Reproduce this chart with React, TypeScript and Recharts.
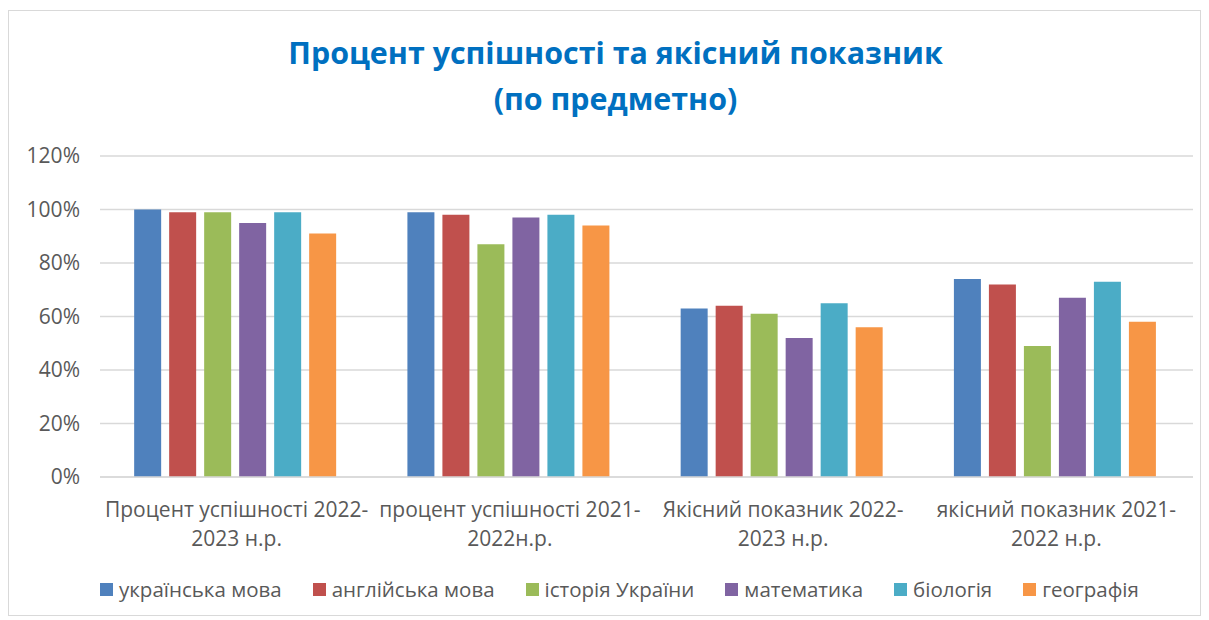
import React from 'react'
import { BarChart, Bar, XAxis, YAxis, CartesianGrid, Legend } from 'recharts'

const categories = [
  'Процент успішності 2022-\n2023 н.р.',
  'процент успішності 2021-\n2022н.р.',
  'Якісний показник 2022-\n2023 н.р.',
  'якісний показник 2021-\n2022 н.р.',
]

const subjects = ['українська мова', 'англійська мова', 'історія України', 'математика', 'біологія', 'географія']
const colors = ['#4F81BD', '#C0504D', '#9BBB59', '#8064A2', '#4BACC6', '#F79646']

const ukrainian = [100, 99, 63, 74]
const english = [99, 98, 64, 72]
const history = [99, 87, 61, 49]
const math = [95, 97, 52, 67]
const biology = [99, 98, 65, 73]
const geography = [91, 94, 56, 58]

const yTicks = [0, 20, 40, 60, 80, 100, 120]

const series = [ukrainian, english, history, math, biology, geography]

const data = categories.map((name, i) => {
  const row: Record<string, string | number> = { name }
  subjects.forEach((s, j) => {
    row[s] = series[j][i]
  })
  return row
})

const FONT = '"Open Sans", "Noto Sans", sans-serif'
const TEXT = '#595959'

function CategoryTick(props: any) {
  const { x, y, payload } = props
  const lines = String(payload.value).split('\n')
  return (
    <g transform={`translate(${x},${y})`}>
      {lines.map((line, i) => (
        <text
          key={i}
          x={0}
          y={32 + i * 29}
          textAnchor="middle"
          fill={TEXT}
          fontSize={21}
          fontFamily={FONT}
        >
          {line}
        </text>
      ))}
    </g>
  )
}

function LegendContent() {
  return (
    <div
      style={{
        display: 'flex',
        justifyContent: 'flex-start',
        paddingLeft: 91,
        gap: 31,
        fontFamily: FONT,
        fontSize: 20.5,
        color: TEXT,
        whiteSpace: 'nowrap',
      }}
    >
      {subjects.map((s, i) => (
        <div key={s} style={{ display: 'flex', alignItems: 'center' }}>
          <span style={{ width: 13, height: 13, background: colors[i], marginRight: 6, display: 'inline-block' }} />
          <span>{s}</span>
        </div>
      ))}
    </div>
  )
}

export default function App() {
  return (
    <div
      style={{
        position: 'relative',
        width: 1191,
        height: 604,
        marginTop: 2,
        border: '1px solid #d9d9d9',
        background: '#fff',
      }}
    >
      <div
        style={{
          position: 'absolute',
          top: 19,
          left: 22,
          width: 1169,
          textAlign: 'center',
          fontFamily: FONT,
          fontWeight: 700,
          fontSize: 30.4,
          lineHeight: '46px',
          color: '#0070C0',
        }}
      >
        Процент успішності та якісний показник
        <br />
        (по предметно)
      </div>
      <BarChart
        width={1191}
        height={604}
        data={data}
        margin={{ top: 145, right: 7, bottom: 28, left: 0 }}
        barCategoryGap="12.5%"
        barGap={8}
      >
        <CartesianGrid vertical={false} stroke="#d9d9d9" strokeWidth={1.5} />
        <XAxis
          dataKey="name"
          axisLine={{ stroke: '#d9d9d9', strokeWidth: 1.5 }}
          tickLine={false}
          tick={<CategoryTick />}
          height={82}
          interval={0}
        />
        <YAxis
          width={91}
          domain={[0, 120]}
          ticks={yTicks}
          tickFormatter={(v: number) => `${v}%`}
          axisLine={false}
          tickLine={false}
          tickMargin={14}
          tick={{ fill: TEXT, fontSize: 21, fontFamily: FONT }}
        />
        <Legend verticalAlign="bottom" content={<LegendContent />} wrapperStyle={{ bottom: 12 }} />
        {subjects.map((s, i) => (
          <Bar key={s} dataKey={s} fill={colors[i]} isAnimationActive={false} />
        ))}
      </BarChart>
    </div>
  )
}
